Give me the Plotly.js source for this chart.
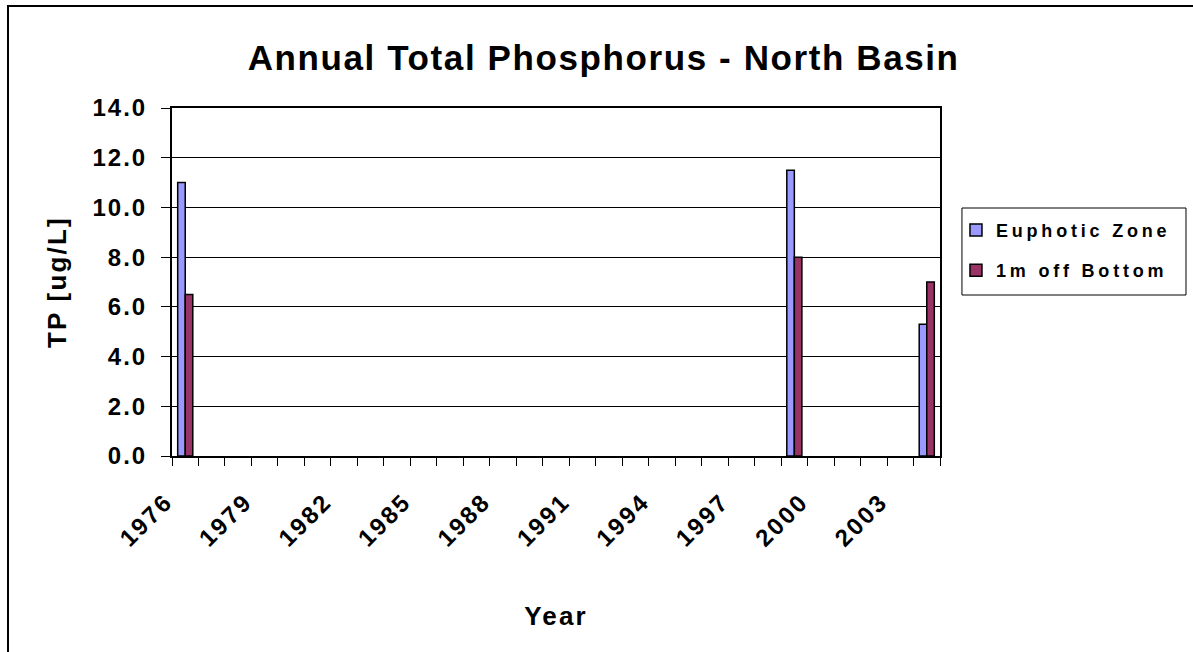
<!DOCTYPE html>
<html>
<head>
<meta charset="utf-8">
<script src="https://cdn.plot.ly/plotly-3.0.1.min.js"></script>
<style>
  html, body { margin: 0; padding: 0; background: #fff; }
  #wrap { position: relative; width: 1193px; height: 652px; overflow: hidden; }
  #chart { position: absolute; left: 0; top: 0; width: 1193px; height: 652px; }
  #frame { position: absolute; left: 7px; top: 5px; width: 1200px; height: 700px;
           border-left: 2px solid #000; border-top: 2px solid #000; pointer-events: none; }
  #chart .gtitle { letter-spacing: 1.6px; }
  #chart .xtick text { letter-spacing: 2.5px; }
  #chart .ytick text { letter-spacing: 2px; }
  #chart .xtitle, #chart .ytitle { letter-spacing: 2.2px; }
  #chart .legendtext { letter-spacing: 3.8px; }
  #chart .legend .scrollbox, #chart .legend g { clip-path: none !important; }
</style>
</head>
<body>
<div id="wrap"><div id="chart"></div><div id="frame"></div></div>
<script>
// ---- data ----
const years = [1976,1977,1978,1979,1980,1981,1982,1983,1984,1985,1986,1987,1988,1989,1990,
               1991,1992,1993,1994,1995,1996,1997,1998,1999,2000,2001,2002,2003,2004];
const euphoticZone = [11.0, null,null,null,null,null,null,null,null,null,null,null,null,null,null,
                      null,null,null,null,null,null,null,null, 11.5, null,null,null,null, 5.3];
const offBottom    = [6.5,  null,null,null,null,null,null,null,null,null,null,null,null,null,null,
                      null,null,null,null,null,null,null,null, 8.0,  null,null,null,null, 7.0];
const xTickLabels = ['1976','1979','1982','1985','1988','1991','1994','1997','2000','2003'];
const seriesNames = ['Euphotic Zone', '1m off Bottom'];
const seriesColors = ['#9999FF', '#993366'];

const FONT = 'Liberation Sans, Arial, sans-serif';
const firstYear = years[0];
const lastYear = years[years.length - 1];

const traces = [
  {
    type: 'bar', name: seriesNames[0], x: years, y: euphoticZone,
    marker: { color: seriesColors[0], line: { color: '#000', width: 1.5 } },
    legendgroup: 'a'
  },
  {
    type: 'bar', name: seriesNames[1], x: years, y: offBottom,
    marker: { color: seriesColors[1], line: { color: '#000', width: 1.5 } },
    legendgroup: 'b'
  }
];

const layout = {
  width: 1193, height: 652,
  paper_bgcolor: '#fff', plot_bgcolor: '#fff',
  margin: { l: 172, r: 253, t: 108, b: 196, pad: 0 },
  barmode: 'group', bargap: 0.43, bargroupgap: 0,
  font: { family: FONT, color: '#000' },
  title: {
    text: 'Annual Total Phosphorus - North Basin',
    font: { family: FONT, size: 35, weight: 'bold', color: '#000' },
    x: 0.506, xref: 'container', xanchor: 'center', y: 0.911, yref: 'container', yanchor: 'middle'
  },
  xaxis: {
    type: 'linear',
    range: [firstYear - 0.5, lastYear + 0.5],
    tickmode: 'array',
    tickvals: xTickLabels.map(t => Number(t) - 0.5),
    ticktext: xTickLabels,
    tickangle: -45,
    ticks: 'outside', ticklen: 8, tickwidth: 1, tickcolor: '#000',
    ticklabelstandoff: 12,
    ticklabelshift: -6,
    minor: { tick0: firstYear - 0.5, dtick: 1, ticks: 'outside', ticklen: 8, tickwidth: 1, tickcolor: '#000', showgrid: false },
    tickfont: { family: FONT, size: 24, weight: 'bold', color: '#000' },
    showline: true, linecolor: '#000', linewidth: 2, mirror: true,
    showgrid: false, zeroline: false, fixedrange: true,
    title: { text: 'Year', font: { family: FONT, size: 26, weight: 'bold', color: '#000' }, standoff: 63 }
  },
  yaxis: {
    range: [0, 14], dtick: 2, tick0: 0, tickformat: '.1f',
    ticks: 'outside', ticklen: 9, tickwidth: 1, tickcolor: '#000',
    ticklabelstandoff: 9,
    tickfont: { family: FONT, size: 24, weight: 'bold', color: '#000' },
    showline: true, linecolor: '#000', linewidth: 2, mirror: true,
    showgrid: true, gridcolor: '#000', gridwidth: 1, zeroline: false, fixedrange: true,
    title: { text: 'TP [ug/L]', font: { family: FONT, size: 26, weight: 'bold', color: '#000' }, standoff: 26 }
  },
  shapes: [
    { type: 'rect', xref: 'paper', yref: 'paper', x0: 1.0286, x1: 1.3203, y0: 0.4626, y1: 0.7126,
      line: { color: '#000', width: 1 }, fillcolor: 'rgba(0,0,0,0)', layer: 'above' }
  ],
  showlegend: true,
  legend: {
    x: 1.0208, xanchor: 'left', y: 0.702, yanchor: 'top',
    borderwidth: 0, bgcolor: 'rgba(0,0,0,0)',
    font: { family: FONT, size: 18, weight: 'bold', color: '#000' },
    traceorder: 'grouped', tracegroupgap: 14
  }
};

Plotly.newPlot('chart', traces, layout, { displayModeBar: false, staticPlot: true });
</script>
</body>
</html>
